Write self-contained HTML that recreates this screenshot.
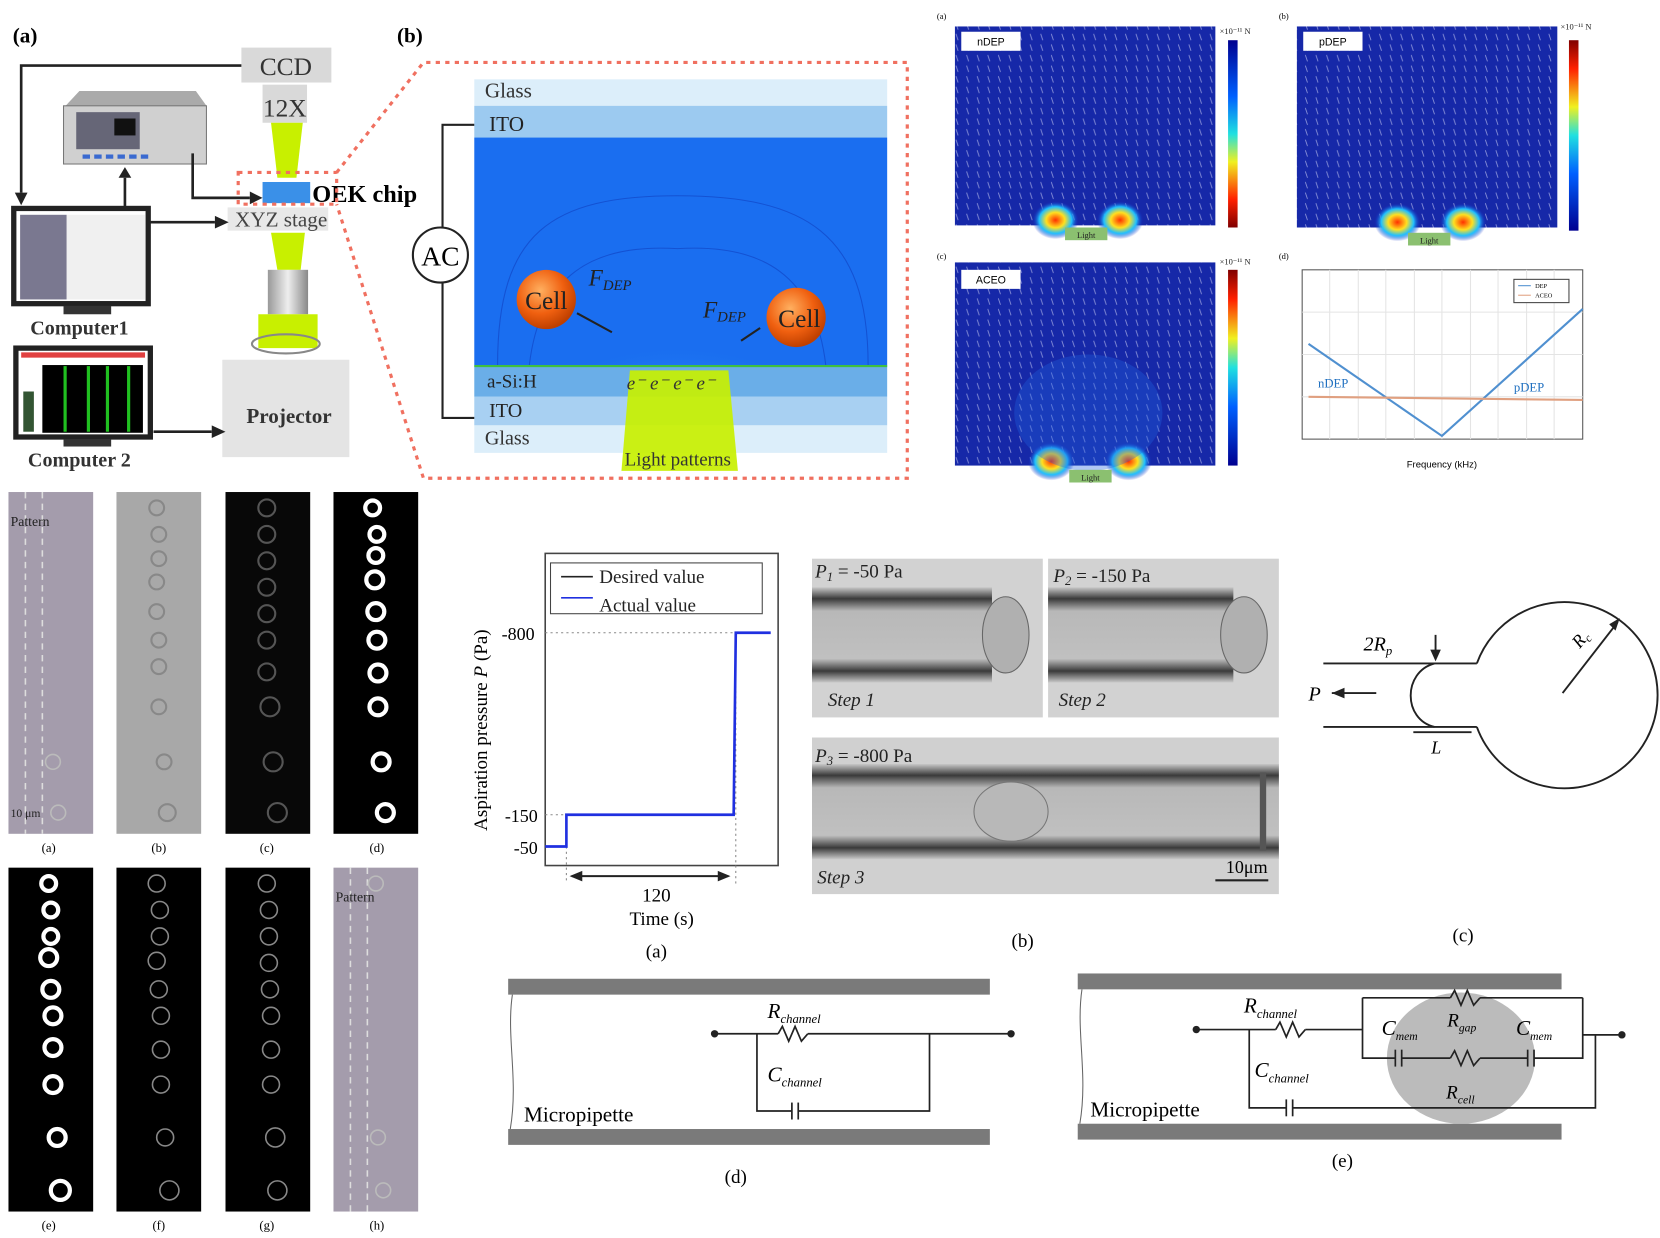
<!DOCTYPE html>
<html><head><meta charset="utf-8"><style>
html,body{margin:0;padding:0;background:#fff;}
svg{display:block;}
text{font-family:"Liberation Serif",serif;}
.s{font-family:"Liberation Sans",sans-serif;}
</style></head><body>
<svg width="1660" height="1238" viewBox="0 0 1568 1170" preserveAspectRatio="none" xmlns="http://www.w3.org/2000/svg">
<defs>
<radialGradient id="cell" cx="40%" cy="35%" r="65%"><stop offset="0" stop-color="#ffb060"/><stop offset="0.6" stop-color="#f06010"/><stop offset="1" stop-color="#c04000"/></radialGradient>
<radialGradient id="glow" cx="50%" cy="100%" r="60%"><stop offset="0" stop-color="#60f0ff"/><stop offset="0.5" stop-color="#30a0ff"/><stop offset="1" stop-color="#1a6ef0" stop-opacity="0"/></radialGradient>
<linearGradient id="cb1" x1="0" y1="0" x2="0" y2="1"><stop offset="0" stop-color="#000090"/><stop offset="0.3" stop-color="#0060ff"/><stop offset="0.5" stop-color="#20e0e0"/><stop offset="0.65" stop-color="#f0f020"/><stop offset="0.85" stop-color="#ff2000"/><stop offset="1" stop-color="#800000"/></linearGradient>
<linearGradient id="cb2" x1="0" y1="1" x2="0" y2="0"><stop offset="0" stop-color="#000090"/><stop offset="0.3" stop-color="#0060ff"/><stop offset="0.5" stop-color="#20e0e0"/><stop offset="0.65" stop-color="#f0f020"/><stop offset="0.85" stop-color="#ff2000"/><stop offset="1" stop-color="#800000"/></linearGradient>
<radialGradient id="hot"><stop offset="0" stop-color="#ff3000"/><stop offset="0.4" stop-color="#ffe020"/><stop offset="0.7" stop-color="#20c0ff"/><stop offset="1" stop-color="#1020c0" stop-opacity="0"/></radialGradient>
<linearGradient id="pipe" x1="0" y1="0" x2="0" y2="1"><stop offset="0" stop-color="#c8c8c8"/><stop offset="0.12" stop-color="#3a3a3a"/><stop offset="0.25" stop-color="#b8b8b8"/><stop offset="0.75" stop-color="#c0c0c0"/><stop offset="0.88" stop-color="#3a3a3a"/><stop offset="1" stop-color="#c8c8c8"/></linearGradient>
<linearGradient id="obj" x1="0" y1="0" x2="1" y2="0"><stop offset="0" stop-color="#999"/><stop offset="0.5" stop-color="#eee"/><stop offset="1" stop-color="#888"/></linearGradient>
<pattern id="vec" width="10" height="10" patternUnits="userSpaceOnUse"><rect width="10" height="10" fill="#1628a8"/><line x1="3" y1="2" x2="5" y2="8" stroke="#8890d8" stroke-width="0.8"/></pattern>
<clipPath id="chipclip"><rect x="448" y="130" width="390" height="215"/></clipPath>
</defs>
<rect width="1568" height="1170" fill="#fff"/>

<!-- (a) setup -->
<text x="12" y="40" font-size="20" font-weight="bold">(a)</text>
<rect x="228" y="45" width="85" height="33" fill="#d9d9d9"/>
<text x="270" y="71" font-size="24" text-anchor="middle" fill="#333">CCD</text>
<rect x="248" y="80" width="42" height="36" fill="#d9d9d9"/>
<text x="269" y="110" font-size="24" text-anchor="middle" fill="#333">12X</text>
<polygon points="256,116 286,116 280,168 262,168" fill="#c8f000"/>
<rect x="248" y="172" width="45" height="20" fill="#3a90e8"/>
<text x="295" y="191" font-size="23" font-weight="bold">OEK chip</text>
<rect x="215" y="196" width="95" height="22" fill="#e8e8e8"/>
<text x="222" y="214" font-size="20" fill="#444">XYZ stage</text>
<polygon points="256,220 288,220 284,255 262,255" fill="#c8f000"/>
<rect x="253" y="255" width="38" height="42" fill="url(#obj)"/>
<rect x="244" y="297" width="56" height="32" fill="#c8f000"/>
<ellipse cx="270" cy="325" rx="32" ry="9" fill="none" stroke="#888" stroke-width="2"/>
<ellipse cx="270" cy="352" rx="22" ry="8" fill="none" stroke="#888" stroke-width="2"/>
<rect x="210" y="340" width="120" height="92" fill="#e4e4e4"/>
<text x="273" y="400" font-size="20" font-weight="bold" text-anchor="middle" fill="#333">Projector</text>
<!-- instrument -->
<polygon points="62,100 75,86 185,86 195,100" fill="#aaa"/>
<rect x="60" y="100" width="135" height="55" fill="#d0d0d0" stroke="#777"/>
<rect x="72" y="106" width="60" height="35" fill="#667"/>
<rect x="108" y="112" width="20" height="16" fill="#111"/>
<g fill="#3a6ad0"><rect x="78" y="146" width="7" height="4"/><rect x="89" y="146" width="7" height="4"/><rect x="100" y="146" width="7" height="4"/><rect x="111" y="146" width="7" height="4"/><rect x="122" y="146" width="7" height="4"/><rect x="133" y="146" width="7" height="4"/></g>
<!-- computers -->
<rect x="13" y="197" width="127" height="90" fill="#fff" stroke="#222" stroke-width="5"/>
<rect x="19" y="203" width="44" height="80" fill="#7a7890"/>
<rect x="63" y="203" width="74" height="80" fill="#f0f0f0"/>
<rect x="60" y="289" width="45" height="8" fill="#333"/>
<text x="75" y="316" font-size="19" font-weight="bold" text-anchor="middle" fill="#333">Computer1</text>
<rect x="15" y="329" width="127" height="84" fill="#fff" stroke="#222" stroke-width="5"/>
<rect x="20" y="333" width="117" height="5" fill="#e04040"/>
<rect x="40" y="345" width="95" height="64" fill="#000"/>
<g fill="#20c020"><rect x="60" y="346" width="3" height="62"/><rect x="82" y="346" width="3" height="62"/><rect x="100" y="346" width="3" height="62"/><rect x="120" y="346" width="3" height="62"/></g>
<rect x="22" y="370" width="10" height="38" fill="#353"/>
<rect x="60" y="415" width="45" height="7" fill="#333"/>
<text x="75" y="441" font-size="19" font-weight="bold" text-anchor="middle" fill="#333">Computer 2</text>
<g stroke="#222" stroke-width="2.5" fill="none">
<polyline points="228,62 20,62 20,182"/>
<line x1="118" y1="195" x2="118" y2="168"/>
<polyline points="182,145 182,187 236,187"/>
<line x1="142" y1="210" x2="203" y2="210"/>
<line x1="145" y1="408" x2="200" y2="408"/>
</g>
<g fill="#222"><polygon points="14,182 26,182 20,194"/><polygon points="112,168 124,168 118,158"/><polygon points="236,181 236,193 248,187"/><polygon points="203,204 203,216 216,210"/><polygon points="200,402 200,414 213,408"/></g>

<!-- (b) -->
<text x="375" y="40" font-size="20" font-weight="bold">(b)</text>
<g stroke="#f07060" stroke-width="3" stroke-dasharray="4,5" fill="none">
<rect x="225" y="163" width="93" height="30"/>
<polyline points="318,163 400,59 857,59 857,452 400,452 318,193"/>
</g>
<rect x="448" y="75" width="390" height="25" fill="#dceefa"/>
<text x="458" y="92" font-size="20" fill="#333">Glass</text>
<rect x="448" y="100" width="390" height="30" fill="#9ccaf0"/>
<text x="462" y="124" font-size="20" fill="#222">ITO</text>
<rect x="448" y="130" width="390" height="215" fill="#1a6ef0"/>
<ellipse cx="640" cy="345" rx="150" ry="100" fill="url(#glow)" clip-path="url(#chipclip)"/>
<g fill="none" stroke="#1040c0" stroke-width="1" opacity="0.6">
<path d="M470,345 C470,220 520,185 640,185 C760,185 820,220 820,345"/>
<path d="M500,345 C510,260 560,230 640,235 C720,230 770,260 780,345"/>
</g>
<rect x="448" y="345" width="390" height="30" fill="#6aaee8"/>
<line x1="448" y1="346" x2="838" y2="346" stroke="#40c040" stroke-width="2"/>
<text x="460" y="366" font-size="18" fill="#222">a-Si:H</text>
<rect x="448" y="375" width="390" height="27" fill="#a8d0f2"/>
<text x="462" y="394" font-size="19" fill="#222">ITO</text>
<rect x="448" y="402" width="390" height="26" fill="#dceefa"/>
<text x="458" y="420" font-size="19" fill="#333">Glass</text>
<polygon points="595,350 688,350 697,445 587,445" fill="#c8f000" opacity="0.92"/>
<text x="590" y="440" font-size="18" fill="#333">Light patterns</text>
<text x="592" y="368" font-size="18" font-style="italic" fill="#333">e⁻ e⁻ e⁻ e⁻</text>
<circle cx="516" cy="283" r="28" fill="url(#cell)"/>
<text x="516" y="292" font-size="24" text-anchor="middle" fill="#222">Cell</text>
<circle cx="752" cy="300" r="28" fill="url(#cell)"/>
<text x="755" y="309" font-size="24" text-anchor="middle" fill="#222">Cell</text>
<text x="556" y="270" font-size="22" font-style="italic" fill="#222">F<tspan font-size="14" dy="4">DEP</tspan></text>
<text x="664" y="300" font-size="22" font-style="italic" fill="#222">F<tspan font-size="14" dy="4">DEP</tspan></text>
<line x1="545" y1="296" x2="578" y2="314" stroke="#222" stroke-width="2"/>
<line x1="718" y1="310" x2="700" y2="322" stroke="#222" stroke-width="2"/>
<polyline points="448,118 418,118 418,395 448,395" fill="none" stroke="#222" stroke-width="2"/>
<circle cx="416" cy="241" r="26" fill="#fff" stroke="#222" stroke-width="2"/>
<text x="416" y="251" font-size="26" text-anchor="middle">AC</text>

<!-- heatmaps -->
<g class="s" font-size="8">
<text x="885" y="18">(a)</text><text x="1208" y="18">(b)</text><text x="885" y="245">(c)</text><text x="1208" y="245">(d)</text>
</g>
<rect x="902" y="25" width="246" height="188" fill="url(#vec)"/>
<rect x="1225" y="25" width="246" height="190" fill="url(#vec)"/>
<rect x="902" y="248" width="246" height="192" fill="url(#vec)"/>
<g fill="url(#hot)">
<ellipse cx="997" cy="208" rx="22" ry="18"/><ellipse cx="1058" cy="208" rx="22" ry="18"/>
<ellipse cx="1320" cy="210" rx="22" ry="18"/><ellipse cx="1382" cy="210" rx="22" ry="18"/>
<ellipse cx="993" cy="436" rx="22" ry="18"/><ellipse cx="1066" cy="436" rx="22" ry="18"/>
</g>
<ellipse cx="1028" cy="390" rx="70" ry="55" fill="#2060e0" opacity="0.35"/>
<rect x="908" y="30" width="56" height="18" fill="#fff"/><text class="s" x="936" y="43" font-size="10" text-anchor="middle">nDEP</text>
<rect x="1231" y="30" width="56" height="18" fill="#fff"/><text class="s" x="1259" y="43" font-size="10" text-anchor="middle">pDEP</text>
<rect x="908" y="255" width="56" height="18" fill="#fff"/><text class="s" x="936" y="268" font-size="10" text-anchor="middle">ACEO</text>
<g fill="#8bc070"><rect x="1006" y="215" width="40" height="12"/><rect x="1330" y="220" width="40" height="12"/><rect x="1010" y="444" width="40" height="12"/></g>
<g class="s" font-size="8" text-anchor="middle" fill="#222"><text x="1026" y="225">Light</text><text x="1350" y="230">Light</text><text x="1030" y="454">Light</text></g>
<rect x="1160" y="38" width="9" height="177" fill="url(#cb1)"/>
<rect x="1482" y="38" width="9" height="180" fill="url(#cb2)"/>
<rect x="1160" y="255" width="9" height="185" fill="url(#cb2)"/>
<g class="s" font-size="8" fill="#222"><text x="1152" y="32">×10⁻¹¹ N</text><text x="1474" y="28">×10⁻¹¹ N</text><text x="1152" y="250">×10⁻¹¹ N</text></g>
<!-- plot d -->
<rect x="1230" y="255" width="265" height="160" fill="#fff" stroke="#555"/>
<g stroke="#e4e4e4"><line x1="1256" y1="255" x2="1256" y2="415"/><line x1="1283" y1="255" x2="1283" y2="415"/><line x1="1309" y1="255" x2="1309" y2="415"/><line x1="1336" y1="255" x2="1336" y2="415"/><line x1="1362" y1="255" x2="1362" y2="415"/><line x1="1389" y1="255" x2="1389" y2="415"/><line x1="1415" y1="255" x2="1415" y2="415"/><line x1="1442" y1="255" x2="1442" y2="415"/><line x1="1468" y1="255" x2="1468" y2="415"/><line x1="1230" y1="295" x2="1495" y2="295"/><line x1="1230" y1="335" x2="1495" y2="335"/><line x1="1230" y1="375" x2="1495" y2="375"/></g>
<polyline points="1236,325 1362,412 1495,292" fill="none" stroke="#5090d0" stroke-width="2"/>
<line x1="1236" y1="375" x2="1495" y2="378" stroke="#e0a080" stroke-width="2"/>
<rect x="1430" y="264" width="52" height="22" fill="#fff" stroke="#444"/>
<line x1="1434" y1="270" x2="1446" y2="270" stroke="#5090d0"/><line x1="1434" y1="279" x2="1446" y2="279" stroke="#e0a080"/>
<g class="s" font-size="6"><text x="1450" y="272">DEP</text><text x="1450" y="281">ACEO</text></g>
<g class="s" font-size="12" fill="#2070c0"><text x="1245" y="366">nDEP</text><text x="1430" y="370">pDEP</text></g>
<text class="s" x="1362" y="442" font-size="9" text-anchor="middle">Frequency (kHz)</text>

<!-- bottom-left micrographs -->
<rect x="8" y="465" width="80" height="323" fill="#a49cac"/>
<rect x="110" y="465" width="80" height="323" fill="#a8a8a8"/>
<rect x="213" y="465" width="80" height="323" fill="#080808"/>
<rect x="315" y="465" width="80" height="323" fill="#000"/>
<rect x="8" y="820" width="80" height="325" fill="#000"/>
<rect x="110" y="820" width="80" height="325" fill="#000"/>
<rect x="213" y="820" width="80" height="325" fill="#000"/>
<rect x="315" y="820" width="80" height="325" fill="#a49cac"/>
<g stroke="#ddd" stroke-dasharray="6,5" stroke-width="1.5"><line x1="24" y1="465" x2="24" y2="788"/><line x1="40" y1="465" x2="40" y2="788"/><line x1="331" y1="820" x2="331" y2="1145"/><line x1="347" y1="820" x2="347" y2="1145"/></g>
<g fill="none" stroke="#888" stroke-width="2">
<circle cx="148" cy="480" r="7"/><circle cx="150" cy="505" r="7"/><circle cx="150" cy="528" r="7"/><circle cx="148" cy="550" r="7"/><circle cx="148" cy="578" r="7"/><circle cx="150" cy="605" r="7"/><circle cx="150" cy="630" r="7"/><circle cx="150" cy="668" r="7"/><circle cx="155" cy="720" r="7"/><circle cx="158" cy="768" r="8"/>
</g>
<g fill="none" stroke="#555" stroke-width="2">
<circle cx="252" cy="480" r="8"/><circle cx="252" cy="505" r="8"/><circle cx="252" cy="530" r="8"/><circle cx="252" cy="555" r="8"/><circle cx="252" cy="580" r="8"/><circle cx="252" cy="605" r="8"/><circle cx="252" cy="635" r="8"/><circle cx="255" cy="668" r="9"/><circle cx="258" cy="720" r="9"/><circle cx="262" cy="768" r="9"/>
</g>
<g fill="none" stroke="#fff" stroke-width="4">
<circle cx="352" cy="480" r="7"/><circle cx="356" cy="505" r="7"/><circle cx="355" cy="525" r="7"/><circle cx="354" cy="548" r="8"/><circle cx="355" cy="578" r="8"/><circle cx="356" cy="605" r="8"/><circle cx="357" cy="636" r="8"/><circle cx="357" cy="668" r="8"/><circle cx="360" cy="720" r="8"/><circle cx="364" cy="768" r="8"/>
<circle cx="46" cy="835" r="7"/><circle cx="48" cy="860" r="7"/><circle cx="48" cy="885" r="7"/><circle cx="46" cy="905" r="8"/><circle cx="48" cy="935" r="8"/><circle cx="50" cy="960" r="8"/><circle cx="50" cy="990" r="8"/><circle cx="50" cy="1025" r="8"/><circle cx="54" cy="1075" r="8"/><circle cx="57" cy="1125" r="9"/>
</g>
<g fill="none" stroke="#888" stroke-width="1.5">
<circle cx="148" cy="835" r="8"/><circle cx="151" cy="860" r="8"/><circle cx="151" cy="885" r="8"/><circle cx="148" cy="908" r="8"/><circle cx="150" cy="935" r="8"/><circle cx="152" cy="960" r="8"/><circle cx="152" cy="992" r="8"/><circle cx="152" cy="1025" r="8"/><circle cx="156" cy="1075" r="8"/><circle cx="160" cy="1125" r="9"/>
<circle cx="252" cy="835" r="8"/><circle cx="254" cy="860" r="8"/><circle cx="254" cy="885" r="8"/><circle cx="254" cy="910" r="8"/><circle cx="255" cy="935" r="8"/><circle cx="256" cy="960" r="8"/><circle cx="256" cy="992" r="8"/><circle cx="256" cy="1025" r="8"/><circle cx="260" cy="1075" r="9"/><circle cx="262" cy="1125" r="9"/>
</g>
<g fill="none" stroke="#bbb" stroke-width="1.5"><circle cx="50" cy="720" r="7"/><circle cx="55" cy="768" r="7"/><circle cx="355" cy="835" r="7"/><circle cx="357" cy="1075" r="7"/><circle cx="362" cy="1125" r="7"/></g>
<text x="10" y="497" font-size="13" fill="#222">Pattern</text>
<text x="317" y="852" font-size="13" fill="#222">Pattern</text>
<text x="10" y="772" font-size="11" fill="#222">10 μm</text>
<g font-size="12" text-anchor="middle"><text x="46" y="805">(a)</text><text x="150" y="805">(b)</text><text x="252" y="805">(c)</text><text x="356" y="805">(d)</text><text x="46" y="1162">(e)</text><text x="150" y="1162">(f)</text><text x="252" y="1162">(g)</text><text x="356" y="1162">(h)</text></g>

<!-- pressure plot -->
<rect x="515" y="523" width="220" height="295" fill="#fff" stroke="#444" stroke-width="1.5"/>
<rect x="520" y="532" width="200" height="48" fill="#fff" stroke="#444"/>
<line x1="530" y1="545" x2="560" y2="545" stroke="#222" stroke-width="1.5"/>
<line x1="530" y1="565" x2="560" y2="565" stroke="#2030e0" stroke-width="1.5"/>
<text x="566" y="551" font-size="18" fill="#222">Desired value</text>
<text x="566" y="578" font-size="18" fill="#222">Actual value</text>
<g stroke="#888" stroke-dasharray="2,3"><line x1="515" y1="598" x2="695" y2="598"/><line x1="515" y1="770" x2="535" y2="770"/><line x1="535" y1="770" x2="535" y2="835"/><line x1="695" y1="598" x2="695" y2="835"/></g>
<polyline points="515,800 535,800 535,770 693,770 695,598 728,598" fill="none" stroke="#2030e0" stroke-width="2.5"/>
<text x="505" y="605" font-size="17" text-anchor="end">-800</text>
<text x="508" y="777" font-size="17" text-anchor="end">-150</text>
<text x="508" y="807" font-size="17" text-anchor="end">-50</text>
<text transform="translate(460,690) rotate(-90)" font-size="18" text-anchor="middle">Aspiration pressure <tspan font-style="italic">P</tspan> (Pa)</text>
<line x1="540" y1="828" x2="688" y2="828" stroke="#222" stroke-width="2"/>
<polygon points="538,828 550,823 550,833" fill="#222"/><polygon points="690,828 678,823 678,833" fill="#222"/>
<text x="620" y="852" font-size="18" text-anchor="middle">120</text>
<text x="625" y="874" font-size="18" text-anchor="middle">Time (s)</text>
<text x="620" y="905" font-size="18" text-anchor="middle">(a)</text>

<!-- photos -->
<rect x="767" y="528" width="218" height="150" fill="#d2d2d2"/>
<rect x="767" y="555" width="170" height="90" fill="url(#pipe)"/>
<ellipse cx="950" cy="600" rx="22" ry="36" fill="#b0b0b0" stroke="#666"/>
<rect x="990" y="528" width="218" height="150" fill="#d2d2d2"/>
<rect x="990" y="555" width="175" height="90" fill="url(#pipe)"/>
<ellipse cx="1175" cy="600" rx="22" ry="36" fill="#b0b0b0" stroke="#666"/>
<rect x="767" y="697" width="441" height="148" fill="#d0d0d0"/>
<rect x="767" y="722" width="441" height="90" fill="url(#pipe)"/>
<rect x="1190" y="730" width="6" height="74" fill="#555"/>
<ellipse cx="955" cy="767" rx="35" ry="28" fill="#b8b8b8" stroke="#777"/>
<g font-size="18" font-style="italic" fill="#222">
<text x="770" y="546">P<tspan font-size="12" dy="3">1</tspan><tspan dy="-3" font-style="normal"> = -50 Pa</tspan></text>
<text x="995" y="550">P<tspan font-size="12" dy="3">2</tspan><tspan dy="-3" font-style="normal"> = -150 Pa</tspan></text>
<text x="770" y="720">P<tspan font-size="12" dy="3">3</tspan><tspan dy="-3" font-style="normal"> = -800 Pa</tspan></text>
<text x="782" y="667">Step 1</text><text x="1000" y="667">Step 2</text><text x="772" y="835">Step 3</text>
</g>
<text x="1158" y="825" font-size="17">10μm</text>
<line x1="1148" y1="832" x2="1198" y2="832" stroke="#222" stroke-width="2"/>
<text x="966" y="895" font-size="18" text-anchor="middle">(b)</text>

<!-- (c) diagram -->
<g stroke="#222" stroke-width="1.8" fill="none">
<line x1="1250" y1="627" x2="1395" y2="627"/>
<line x1="1250" y1="687" x2="1395" y2="687"/>
<path d="M1395,627 A88,88 0 1 1 1395,687"/>
<path d="M1355,627 C1325,635 1325,680 1355,687"/>
<line x1="1476" y1="655" x2="1528" y2="588"/>
<line x1="1258" y1="655" x2="1300" y2="655"/>
<line x1="1356" y1="600" x2="1356" y2="620"/>
<line x1="1335" y1="692" x2="1390" y2="692"/>
</g>
<polygon points="1530,584 1520,590 1526,596" fill="#222"/>
<polygon points="1258,655 1270,650 1270,660" fill="#222"/>
<polygon points="1356,625 1351,614 1361,614" fill="#222"/>
<text x="1288" y="615" font-size="19" font-style="italic">2R<tspan font-size="12" dy="4">p</tspan></text>
<text x="1236" y="662" font-size="19" font-style="italic">P</text>
<text x="1485" y="612" font-size="17" font-style="italic" transform="rotate(-50 1490 605)">R<tspan font-size="11" dy="3">c</tspan></text>
<text x="1352" y="712" font-size="17" font-style="italic">L</text>
<text x="1382" y="890" font-size="18" text-anchor="middle">(c)</text>

<!-- (d) circuit -->
<rect x="480" y="925" width="455" height="15" fill="#7a7a7a"/>
<rect x="480" y="1067" width="455" height="15" fill="#7a7a7a"/>
<path d="M484,940 C478,980 490,1020 482,1067" fill="none" stroke="#666"/>
<g stroke="#222" stroke-width="1.6" fill="none">
<line x1="675" y1="977" x2="735" y2="977"/>
<polyline points="735,977 739,970 745,984 751,970 757,984 763,977"/>
<line x1="763" y1="977" x2="955" y2="977"/>
<polyline points="715,977 715,1050 748,1050"/><line x1="748" y1="1042" x2="748" y2="1058"/><line x1="754" y1="1042" x2="754" y2="1058"/>
<polyline points="754,1050 878,1050 878,977"/>
</g>
<circle cx="675" cy="977" r="3.5" fill="#222"/><circle cx="955" cy="977" r="3.5" fill="#222"/>
<text x="725" y="962" font-size="20" font-style="italic">R<tspan font-size="12" dy="5">channel</tspan></text>
<text x="725" y="1022" font-size="20" font-style="italic">C<tspan font-size="12" dy="5">channel</tspan></text>
<text x="495" y="1060" font-size="20">Micropipette</text>
<text x="695" y="1118" font-size="18" text-anchor="middle">(d)</text>

<!-- (e) circuit -->
<rect x="1018" y="920" width="457" height="15" fill="#7a7a7a"/>
<rect x="1018" y="1062" width="457" height="15" fill="#7a7a7a"/>
<path d="M1022,935 C1016,975 1028,1015 1020,1062" fill="none" stroke="#666"/>
<ellipse cx="1380" cy="1000" rx="70" ry="62" fill="#b4b4b4" opacity="0.9"/>
<g stroke="#222" stroke-width="1.6" fill="none">
<line x1="1130" y1="973" x2="1205" y2="973"/>
<polyline points="1205,973 1209,966 1215,980 1221,966 1227,980 1233,973"/>
<line x1="1233" y1="973" x2="1287" y2="973"/>
<polyline points="1180,973 1180,1047 1215,1047"/><line x1="1215" y1="1039" x2="1215" y2="1055"/><line x1="1221" y1="1039" x2="1221" y2="1055"/>
<polyline points="1221,1047 1507,1047 1507,978"/>
<polyline points="1287,943 1287,1000 1318,1000"/><line x1="1318" y1="992" x2="1318" y2="1008"/><line x1="1324" y1="992" x2="1324" y2="1008"/>
<line x1="1324" y1="1000" x2="1370" y2="1000"/>
<polyline points="1370,1000 1374,993 1380,1007 1386,993 1392,1007 1398,1000"/>
<line x1="1398" y1="1000" x2="1443" y2="1000"/><line x1="1443" y1="992" x2="1443" y2="1008"/><line x1="1449" y1="992" x2="1449" y2="1008"/>
<polyline points="1449,1000 1495,1000 1495,943"/>
<line x1="1287" y1="943" x2="1370" y2="943"/>
<polyline points="1370,943 1374,936 1380,950 1386,936 1392,950 1398,943"/>
<line x1="1398" y1="943" x2="1495" y2="943"/>
<line x1="1495" y1="978" x2="1530" y2="978"/>
</g>
<circle cx="1130" cy="973" r="3.5" fill="#222"/><circle cx="1532" cy="978" r="3.5" fill="#222"/>
<text x="1175" y="957" font-size="20" font-style="italic">R<tspan font-size="12" dy="5">channel</tspan></text>
<text x="1185" y="1018" font-size="20" font-style="italic">C<tspan font-size="12" dy="5">channel</tspan></text>
<text x="1305" y="978" font-size="20" font-style="italic">C<tspan font-size="11" dy="5">mem</tspan></text>
<text x="1432" y="978" font-size="20" font-style="italic">C<tspan font-size="11" dy="5">mem</tspan></text>
<text x="1367" y="970" font-size="18" font-style="italic">R<tspan font-size="11" dy="5">gap</tspan></text>
<text x="1366" y="1038" font-size="18" font-style="italic">R<tspan font-size="11" dy="5">cell</tspan></text>
<text x="1030" y="1055" font-size="20">Micropipette</text>
<text x="1268" y="1103" font-size="18" text-anchor="middle">(e)</text>
</svg>
</body></html>
